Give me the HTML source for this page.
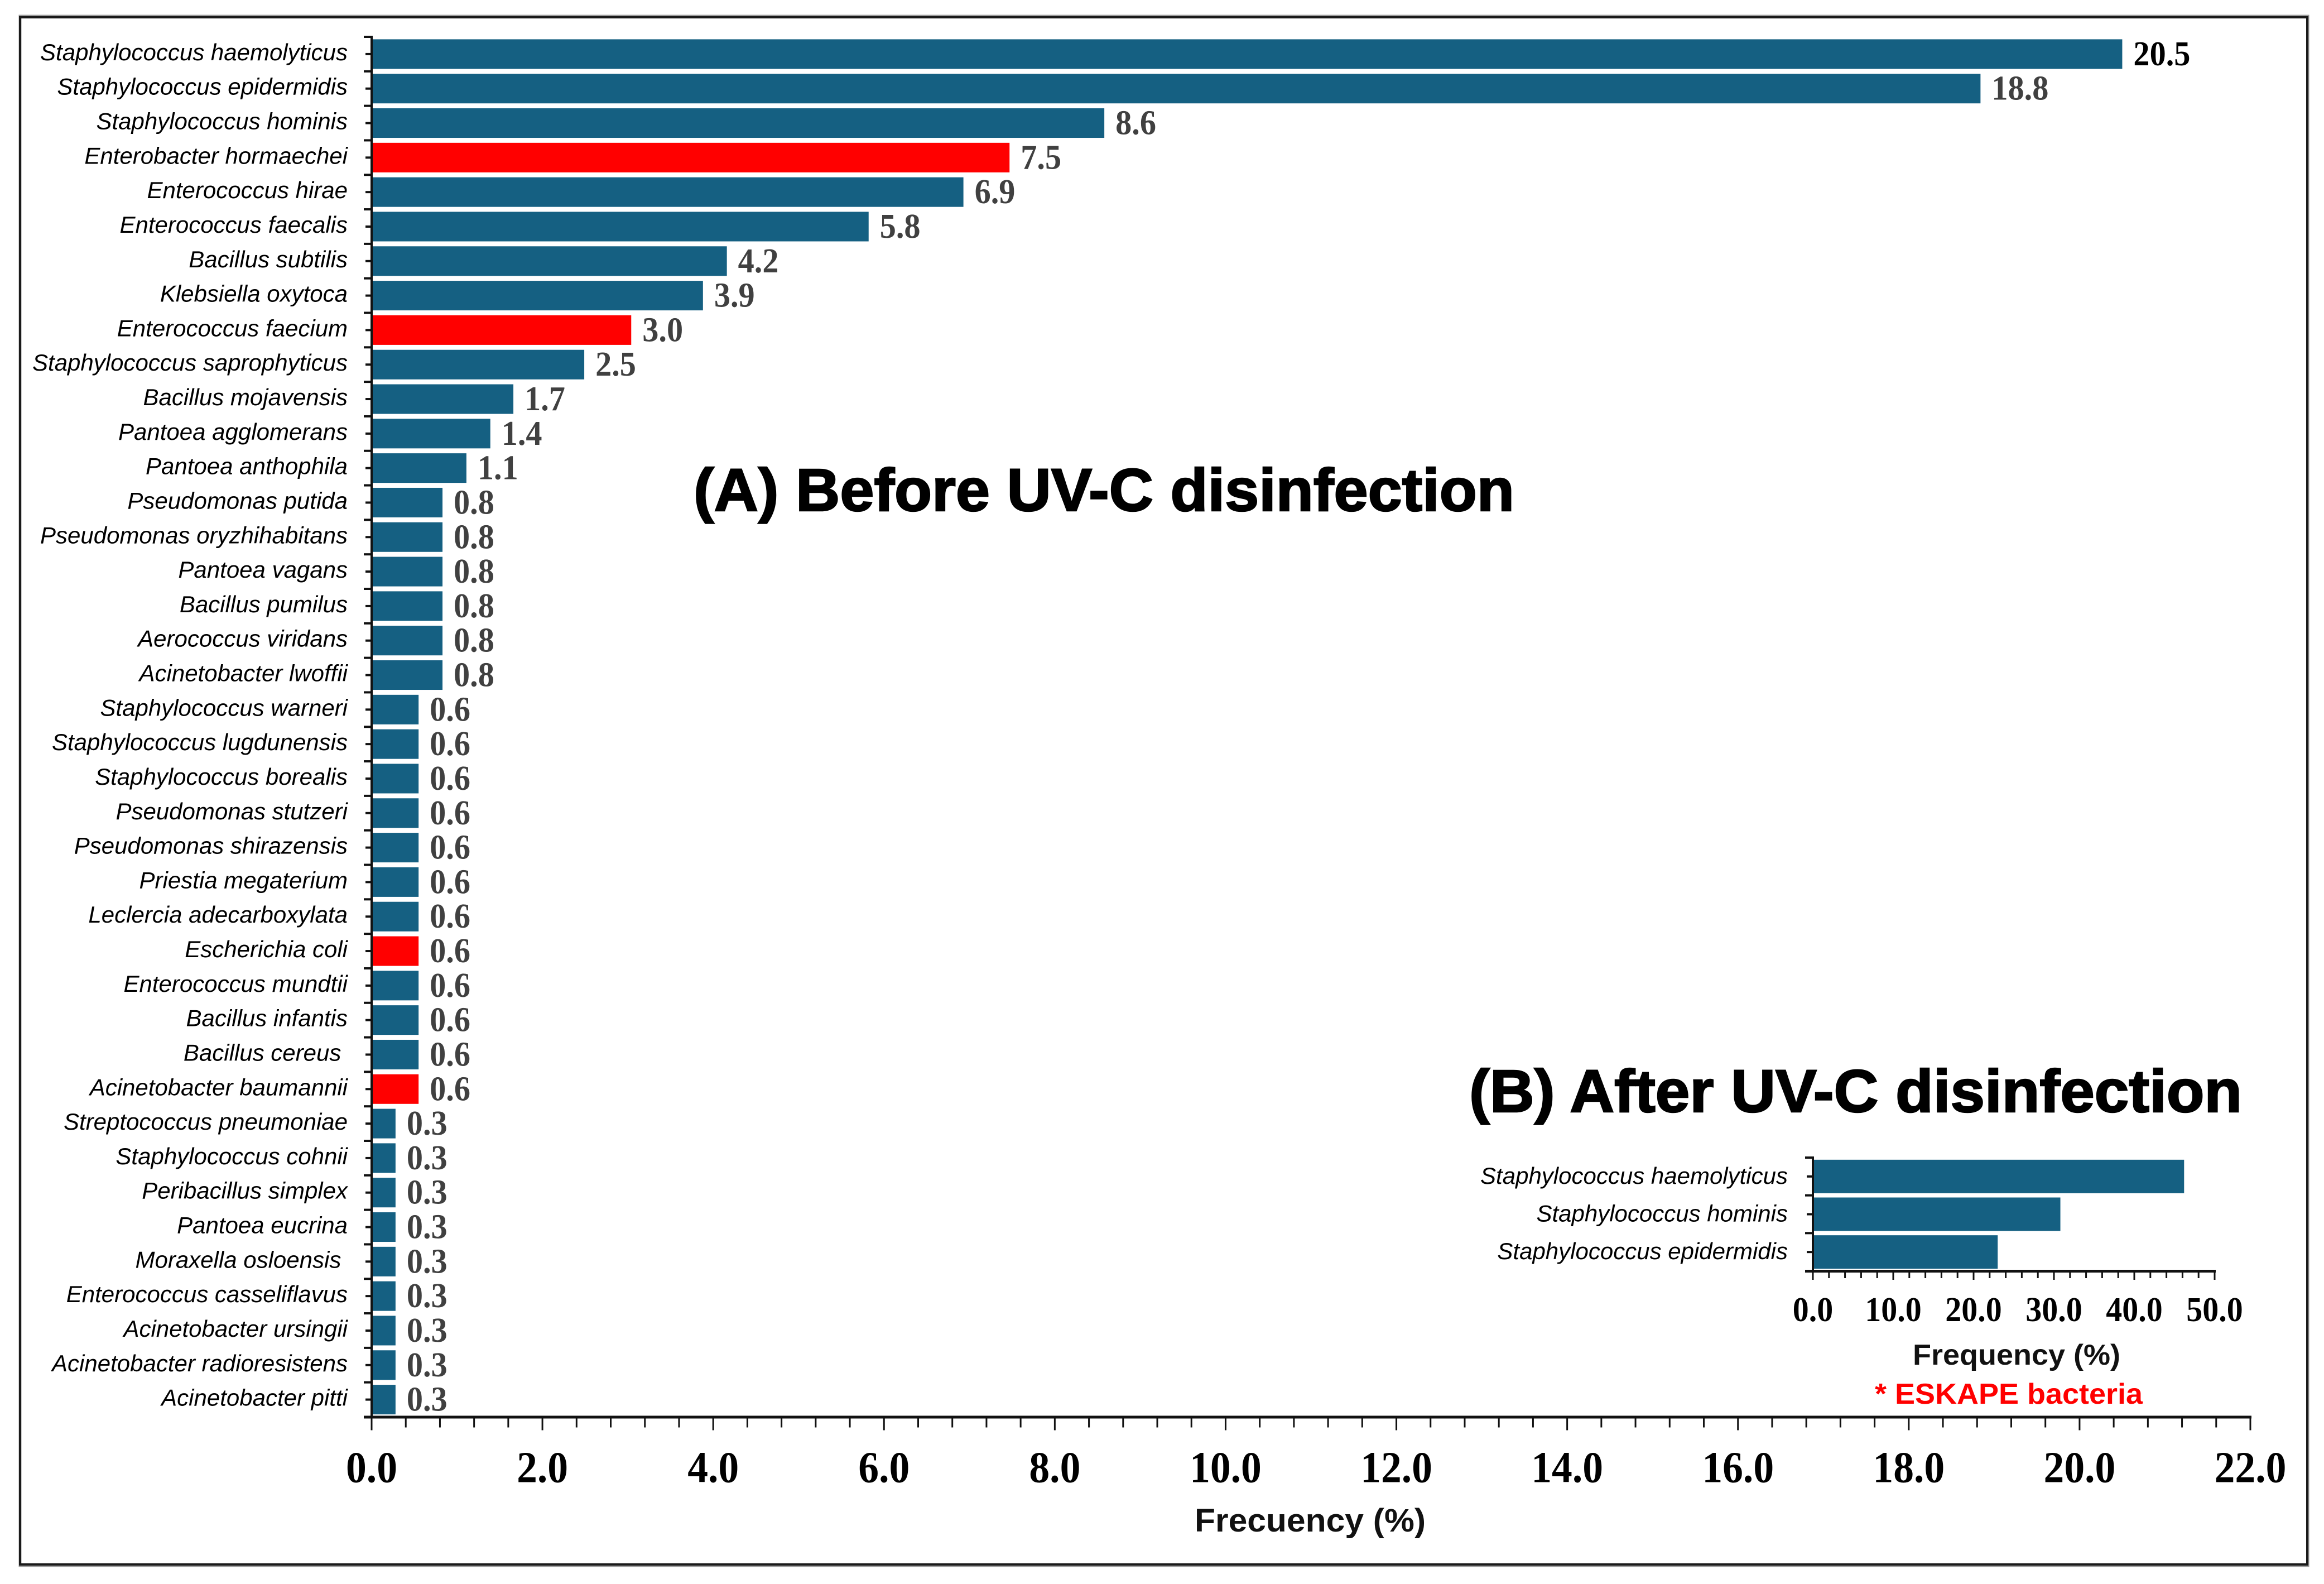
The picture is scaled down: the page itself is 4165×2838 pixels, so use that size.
<!DOCTYPE html>
<html lang="en">
<head>
<meta charset="utf-8">
<title>Bacterial frequency before and after UV-C disinfection</title>
<style>
html,body{margin:0;padding:0;background:#fff;width:4165px;height:2838px;overflow:hidden}
svg{display:block}
text{white-space:pre}
.sans{font-family:"Liberation Sans",sans-serif}
.serif{font-family:"Liberation Serif",serif;font-weight:bold}
</style>
</head>
<body>
<svg id="figure" xmlns="http://www.w3.org/2000/svg" width="4165" height="2838" viewBox="0 0 4165 2838">
  <rect x="0" y="0" width="4165" height="2838" fill="#ffffff"/>
  <rect x="36" y="29" width="4100" height="2776" fill="none" stroke="#9a9a9a" stroke-width="5"/>
  <rect x="36" y="31" width="4099" height="2772" fill="none" stroke="#1a1a1a" stroke-width="4"/>
  <g id="main-chart"></g>
  <g id="inset-chart"></g>
  <text class="sans" x="1243" y="915" font-size="108" font-weight="bold" textLength="1471" lengthAdjust="spacingAndGlyphs" fill="#000" stroke="#000" stroke-width="2.5">(A) Before UV-C disinfection</text>
  <text class="sans" x="2633" y="1992" font-size="108" font-weight="bold" textLength="1385" lengthAdjust="spacingAndGlyphs" fill="#000" stroke="#000" stroke-width="2.5">(B) After UV-C disinfection</text>
  <text class="sans" x="2141" y="2744" font-size="58" font-weight="bold" textLength="414" lengthAdjust="spacingAndGlyphs" fill="#111">Frecuency (%)</text>
  <text class="sans" x="3428" y="2445" font-size="52" font-weight="bold" textLength="372" lengthAdjust="spacingAndGlyphs" fill="#111">Frequency (%)</text>
  <text class="sans" x="3360" y="2515" font-size="52" font-weight="bold" textLength="480" lengthAdjust="spacingAndGlyphs" fill="#ff0000">* ESKAPE bacteria</text>
</svg>
<script>
var mainCategories = [
  "Staphylococcus haemolyticus","Staphylococcus epidermidis","Staphylococcus hominis","Enterobacter hormaechei",
  "Enterococcus hirae","Enterococcus faecalis","Bacillus subtilis","Klebsiella oxytoca","Enterococcus faecium",
  "Staphylococcus saprophyticus","Bacillus mojavensis","Pantoea agglomerans","Pantoea anthophila","Pseudomonas putida",
  "Pseudomonas oryzhihabitans","Pantoea vagans","Bacillus pumilus","Aerococcus viridans","Acinetobacter lwoffii",
  "Staphylococcus warneri","Staphylococcus lugdunensis","Staphylococcus borealis","Pseudomonas stutzeri",
  "Pseudomonas shirazensis","Priestia megaterium","Leclercia adecarboxylata","Escherichia coli","Enterococcus mundtii",
  "Bacillus infantis","Bacillus cereus ","Acinetobacter baumannii","Streptococcus pneumoniae","Staphylococcus cohnii",
  "Peribacillus simplex","Pantoea eucrina","Moraxella osloensis ","Enterococcus casseliflavus","Acinetobacter ursingii",
  "Acinetobacter radioresistens","Acinetobacter pitti"
];
var mainValues = [
  20.5,18.84,8.58,7.47,6.93,5.82,4.16,3.88,3.04,2.49,1.66,1.39,1.11,0.83,0.83,0.83,0.83,0.83,0.83,
  0.55,0.55,0.55,0.55,0.55,0.55,0.55,0.55,0.55,0.55,0.55,0.55,
  0.28,0.28,0.28,0.28,0.28,0.28,0.28,0.28,0.28
];
var eskapeSpecies = ["Enterobacter hormaechei","Enterococcus faecium","Escherichia coli","Acinetobacter baumannii"];
var mainXTicks = [0,2,4,6,8,10,12,14,16,18,20,22];
var mainXMinorStep = [0.4];
var insetCategories = ["Staphylococcus haemolyticus","Staphylococcus hominis","Staphylococcus epidermidis"];
var insetValues = [46.2,30.8,23.0];
var insetXTicks = [0,10,20,30,40,50];
var insetXMinorStep = [2];

var NS = 'http://www.w3.org/2000/svg';
function make(parent, tag, props) {
  var node = document.createElementNS(NS, tag);
  for (var key in props) { node.setAttribute(key, props[key]); }
  parent.appendChild(node);
  return node;
}

function drawChart(cfg) {
  var g = cfg.group;
  var n = cfg.categories.length;
  var xMax = cfg.ticks[cfg.ticks.length - 1];
  function xScale(v) { return cfg.x0 + (v / xMax) * (cfg.x1 - cfg.x0); }
  var band = (cfg.y1 - cfg.y0) / n;
  function yScale(i) { return cfg.y0 + band * i; }
  var el;

  cfg.categories.forEach(function (name, i) {
    var top = yScale(i) + (band - cfg.barHeight) / 2;
    el = make(g, 'rect', {x: cfg.x0, y: top, width: xScale(cfg.values[i]) - cfg.x0, height: cfg.barHeight,
      fill: eskapeSpecies.indexOf(name) >= 0 ? '#ff0000' : '#156082'});
    
    

    el = make(g, 'text', {x: cfg.labelRight, y: yScale(i) + band / 2 + cfg.labelDy, 'text-anchor': 'end',
      'font-size': cfg.labelSize, 'font-style': 'italic', fill: '#000', 'class': 'sans'});
    el.textContent = name;
    
    

    if (cfg.showValues) {
      el = make(g, 'text', {transform: 'translate(' + (xScale(cfg.values[i]) + 20) + ' ' + (yScale(i) + band / 2 + 20) + ') scale(0.94 1)',
        'font-size': 62, fill: i === 0 ? '#000000' : '#404040', 'class': 'serif'});
      el.textContent = cfg.values[i].toFixed(1);
      
      
    }
  });

  for (var i = 0; i <= n; i++) {
    el = make(g, 'rect', {x: cfg.x0 - cfg.yTickLen, y: yScale(i) - 2, width: cfg.yTickLen, height: 4, fill: '#111'});
    
    
    if (i < n) {
      el = make(g, 'rect', {x: cfg.x0 - cfg.yTickLen + 3, y: yScale(i) + band / 2 - 2, width: cfg.yTickLen - 3, height: 4, fill: '#111'});
      
      
    }
  }

  var minorCount = Math.round(xMax / cfg.minorStep[0]);
  for (var m = 0; m <= minorCount; m++) {
    var value = m * cfg.minorStep[0];
    var isMajor = cfg.ticks.some(function (t) { return Math.abs(t - value) < 1e-6; });
    el = make(g, 'rect', {x: xScale(value) - 1.5, y: cfg.y1, width: 3, height: isMajor ? cfg.xMajorLen : cfg.xMinorLen, fill: '#111'});
    
    
  }

  cfg.ticks.forEach(function (t) {
    el = make(g, 'text', {transform: 'translate(' + xScale(t) + ' ' + (cfg.y1 + cfg.tickDy) + ') scale(0.92 1)', 'text-anchor': 'middle', 'font-size': cfg.tickSize, fill: '#000', 'class': 'serif'});
    el.textContent = t.toFixed(1);
    
    
  });

  el = make(g, 'rect', {x: cfg.x0 - 2, y: cfg.y0 - 2, width: 4, height: cfg.y1 - cfg.y0 + 4, fill: '#111'});
  
  

  el = make(g, 'rect', {x: cfg.x0 - 14, y: cfg.y1 - 2, width: cfg.x1 - cfg.x0 + 16, height: 5, fill: '#111'});
  
  
}

drawChart({group: document.getElementById('main-chart'), prefix: 'main',
  categories: mainCategories, values: mainValues, ticks: mainXTicks, minorStep: mainXMinorStep,
  x0: 666, x1: 4033, y0: 66, y1: 2538.5, barHeight: 53, labelRight: 623, labelDy: 11, labelSize: 42,
  showValues: true, yTickLen: 14, xMajorLen: 24, xMinorLen: 19, tickDy: 117, tickSize: 80});

drawChart({group: document.getElementById('inset-chart'), prefix: 'inset',
  categories: insetCategories, values: insetValues, ticks: insetXTicks, minorStep: insetXMinorStep,
  x0: 3249, x1: 3969, y0: 2074, y1: 2277, barHeight: 60, labelRight: 3204, labelDy: 13, labelSize: 42,
  showValues: false, yTickLen: 14, xMajorLen: 16, xMinorLen: 13, tickDy: 90, tickSize: 63});
</script>
</body>
</html>
